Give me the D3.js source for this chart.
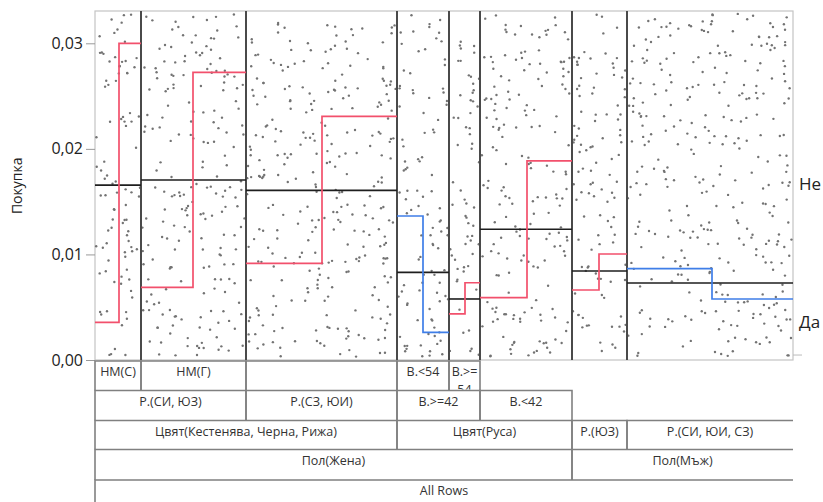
<!DOCTYPE html>
<html>
<head>
<meta charset="utf-8">
<script src="https://cdn.jsdelivr.net/npm/d3@7"></script>
<style>
	body { margin: 0; background: #fff; }
	svg { display: block; font-family: "Open Sans", "Noto Sans", sans-serif; }
</style>
</head>
<body>
<div id="canvas"></div>
<script>
	// Leaves of the partition tree (left to right)
	var leafNames = [ 'НМ(С)', 'НМ(Г)', 'Р.(СЗ, ЮИ)', 'В.<54', 'В.>=54', 'В.<42', 'Р.(ЮЗ)', 'Р.(СИ, ЮИ, СЗ)' ],
		leafN = [ 46, 105, 151, 52, 31, 92, 55, 166 ],
		leafRate = [ 0.01657, 0.01705, 0.01607, 0.00830, 0.00578, 0.01238, 0.00843, 0.00729 ],
		// candidate split inside each leaf
		splitN = [ 24, 52, 76, 26, 16, 47, 27, 85 ],
		splitLeftRate = [ 0.00357, 0.00688, 0.00916, 0.01364, 0.00436, 0.00590, 0.00663, 0.00865 ],
		splitRightRate = [ 0.03000, 0.02725, 0.02308, 0.00262, 0.00732, 0.01887, 0.01004, 0.00578 ],
		yTicks = [ 0, 0.01, 0.02, 0.03 ],
		levelLabels = [ 'Не', 'Да' ],
		levelLabelAt = [ 0.01666, 0.00360 ];

	// label rows under the plot: [text, first leaf, end leaf]
	var tableRows = [
		[ [ 'НМ(С)', 0, 1 ], [ 'НМ(Г)', 1, 2 ], [ '', 2, 3 ], [ 'В.<54', 3, 4 ], [ 'В.>=54', 4, 5 ] ],
		[ [ 'Р.(СИ, ЮЗ)', 0, 2 ], [ 'Р.(СЗ, ЮИ)', 2, 3 ], [ 'В.>=42', 3, 5 ], [ 'В.<42', 5, 6 ] ],
		[ [ 'Цвят(Кестенява, Черна, Рижа)', 0, 3 ], [ 'Цвят(Руса)', 3, 6 ], [ 'Р.(ЮЗ)', 6, 7 ], [ 'Р.(СИ, ЮИ, СЗ)', 7, 8 ] ],
		[ [ 'Пол(Жена)', 0, 6 ], [ 'Пол(Мъж)', 6, 8 ] ],
		[ [ 'All Rows', 0, 8 ] ]
	];

	var width = 823, height = 502,
		plotLeft = 95, plotRight = 793, plotTop = 11, plotBottom = 360,
		rowTops = [ 361, 390.5, 420.5, 449.5, 480, 520 ];

	var svg = d3.select('#canvas').append('svg')
		.attr('width', width)
		.attr('height', height);

	var cum = [0];
	leafN.forEach(function(n, i) { cum.push(cum[i] + n); });

	var x = d3.scaleLinear().domain([0, cum[cum.length - 1]]).range([plotLeft, plotRight]),
		y = d3.scaleLinear().domain([0, 0.03306]).range([plotBottom, plotTop]);

	var locale = d3.formatLocale({ decimal: ',', thousands: ' ', grouping: [3], currency: ['', ''] }),
		fmt = locale.format('.2f');

	// plot frame
	svg.append('rect')
		.attr('x', plotLeft).attr('y', plotTop)
		.attr('width', plotRight - plotLeft).attr('height', plotBottom - plotTop)
		.attr('fill', 'none').attr('stroke', '#c4c4c4').attr('stroke-width', 1.2);

	// jittered row markers (deterministic jitter)
	var seed = 12345;
	function rnd() {
		seed = (seed * 1103515245 + 12345) % 2147483648;
		return seed / 2147483648;
	}
	var dots = [];
	leafN.forEach(function(n, i) {
		var k = Math.round(n * 1.95);
		for (var j = 0; j < k; j++) {
			dots.push({ v: cum[i] + 0.8 + rnd() * (n - 1.6), p: 0.0003 + rnd() * 0.0325 });
		}
	});
	svg.append('g').selectAll('circle')
		.data(dots)
		.enter()
		.append('circle')
		.attr('cx', function(d) { return x(d.v); })
		.attr('cy', function(d) { return y(d.p); })
		.attr('r', 1.2)
		.attr('fill', '#737373');

	// leaf boundaries
	svg.append('g').selectAll('line')
		.data(cum.slice(1, -1))
		.enter()
		.append('line')
		.attr('x1', function(d) { return x(d); })
		.attr('x2', function(d) { return x(d); })
		.attr('y1', plotTop).attr('y2', plotBottom)
		.attr('stroke', '#4a4a4a').attr('stroke-width', 2);

	// leaf rate lines
	svg.append('g').selectAll('line')
		.data(leafRate)
		.enter()
		.append('line')
		.attr('x1', function(d, i) { return x(cum[i]); })
		.attr('x2', function(d, i) { return x(cum[i + 1]); })
		.attr('y1', function(d) { return y(d); })
		.attr('y2', function(d) { return y(d); })
		.attr('stroke', '#1e1e1e').attr('stroke-width', 1.6);

	// candidate split steps
	svg.append('g').selectAll('path')
		.data(leafN)
		.enter()
		.append('path')
		.attr('d', function(n, i) {
			return 'M' + x(cum[i]) + ',' + y(splitLeftRate[i]) +
				'H' + x(cum[i] + splitN[i]) +
				'V' + y(splitRightRate[i]) +
				'H' + x(cum[i + 1]);
		})
		.attr('fill', 'none')
		.attr('stroke', function(n, i) {
			return splitRightRate[i] > splitLeftRate[i] ? '#f2506c' : '#3f7ee8';
		})
		.attr('stroke-width', 1.7);

	// left axis
	var axis = svg.append('g')
		.attr('transform', 'translate(' + plotLeft + ',0)')
		.call(d3.axisLeft(y).tickValues(yTicks).tickFormat(fmt).tickSize(9).tickPadding(3));
	axis.select('.domain').remove();
	axis.selectAll('.tick line').attr('stroke', '#999');
	axis.selectAll('.tick text')
		.attr('fill', '#222')
		.style('font-size', '16px')
		.style('font-family', '"Open Sans", sans-serif');

	svg.append('text')
		.attr('transform', 'translate(22,' + y(0.0165) + ') rotate(-90)')
		.attr('text-anchor', 'middle')
		.attr('fill', '#222')
		.style('font-size', '14px')
		.text('Покупка');

	// right side level labels
	svg.append('line')
		.attr('x1', plotRight).attr('x2', plotRight + 9)
		.attr('y1', y(0.00047)).attr('y2', y(0.00047))
		.attr('stroke', '#bbb');
	svg.append('g').selectAll('text')
		.data(levelLabels)
		.enter()
		.append('text')
		.attr('x', plotRight + 6)
		.attr('y', function(d, i) { return y(levelLabelAt[i]); })
		.attr('dy', '0.36em')
		.attr('fill', '#222')
		.style('font-size', '17px')
		.text(function(d) { return d; });

	// label table
	var table = svg.append('g');
	tableRows.forEach(function(row, r) {
		var top = rowTops[r], bottom = rowTops[r + 1];
		row.forEach(function(cell, c) {
			var x0 = x(cum[cell[1]]), x1 = x(cum[cell[2]]),
				p = 'M' + x0 + ',' + bottom + 'V' + top + 'H' + x1;
			if (cell[2] < leafN.length) p += 'V' + bottom;
			table.append('path')
				.attr('d', p)
				.attr('fill', 'none')
				.attr('stroke', '#808080')
				.attr('stroke-width', 1.6);

			if (!cell[0]) return;
			var id = 'clip-' + r + '-' + c;
			svg.append('clipPath').attr('id', id)
				.append('rect')
				.attr('x', x0).attr('y', top + 1)
				.attr('width', x1 - x0).attr('height', bottom - top - 2);
			var t = table.append('text')
				.attr('clip-path', 'url(#' + id + ')')
				.attr('text-anchor', 'middle')
				.attr('fill', '#333')
				.style('font-size', '12.5px');
			var ts = t.append('tspan').attr('x', (x0 + x1) / 2).attr('y', top + 15).text(cell[0]);
			// wrap long labels character by character; overflow is clipped by the cell
			if (ts.node().getComputedTextLength() > x1 - x0 - 4) {
				var s = cell[0], cut = s.length;
				while (cut > 1) {
					ts.text(s.slice(0, cut));
					if (ts.node().getComputedTextLength() <= x1 - x0 - 4) break;
					cut--;
				}
				t.append('tspan').attr('x', (x0 + x1) / 2).attr('y', top + 33).text(s.slice(cut));
			}
		});
	});
</script>
</body>
</html>
